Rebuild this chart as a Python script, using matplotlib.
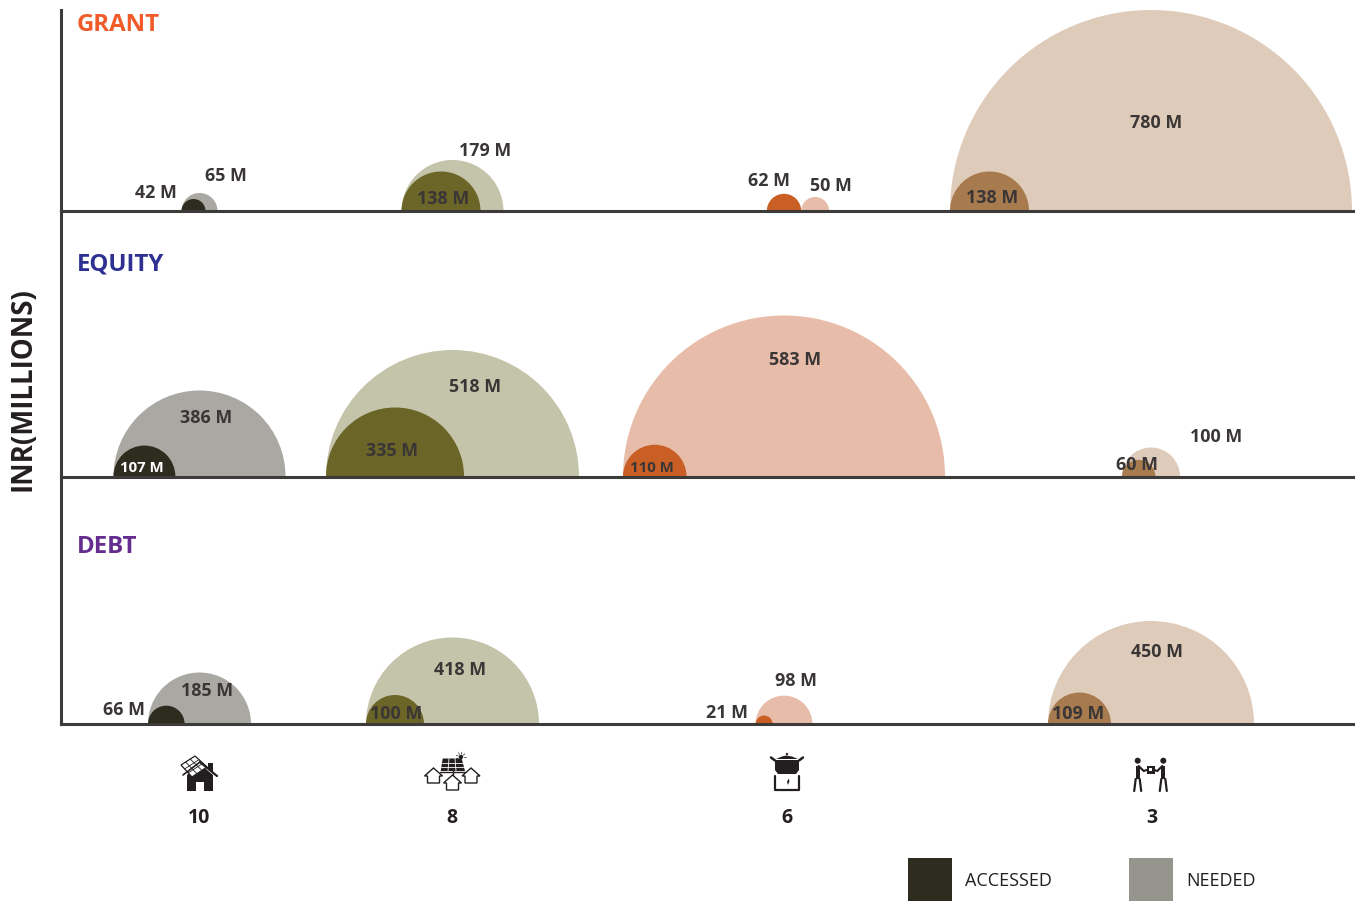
import numpy as np
import matplotlib
matplotlib.use('Agg')
import matplotlib.pyplot as plt
from matplotlib.patches import Wedge, Polygon, Circle, Rectangle

W, H = 1362, 901

beneficiaries = ['10', '8', '6', '3']
grant_needed = [65, 179, 50, 780]
grant_accessed = [42, 138, 62, 138]
equity_needed = [386, 518, 583, 100]
equity_accessed = [107, 335, 110, 60]
debt_needed = [185, 418, 98, 450]
debt_accessed = [66, 100, 21, 109]

# value -> semicircle radius, the sizing is not linear across the range
SCALE_VALUES = [21, 42, 50, 65, 100, 138, 179, 185, 335, 386, 418, 450, 518, 583, 780]
SCALE_RADII = [8.5, 12, 14, 18, 29, 39.5, 51, 51.5, 69, 86, 86.5, 103, 126.5, 161, 201]

AXIS_LEFT, AXIS_RIGHT = 61, 1352.5
COL_X = [199.5, 452.5, 784, 1151]
NEEDED_COLORS = ['#a9a8a2', '#c4c4aa', '#e7bca8', '#dfcbba']
ACCESSED_COLORS = ['#2e2b1f', '#6b6528', '#c95f25', '#a87b4f']
LINE_COLOR = '#3d3a3a'
TEXT_COLOR = '#3a3636'
ICON_COLOR = '#231f20'

# label centres as (x, y) on the canvas, needed then accessed per column
GRANT_NEEDED_POS = [(226, 176), (485, 151), (831, 186), (1156, 123)]
GRANT_ACCESSED_POS = [(155.5, 193), (443, 199), (769, 181), (992, 198)]
EQUITY_NEEDED_POS = [(206, 418), (475, 387), (795, 360), (1216, 437)]
EQUITY_ACCESSED_POS = [(142, 468), (392, 451), (652, 468), (1137, 465)]
DEBT_NEEDED_POS = [(207, 691), (460, 670), (796, 681), (1157, 652)]
DEBT_ACCESSED_POS = [(124, 710), (396, 714), (727, 713), (1078, 714)]

plt.rcParams['font.family'] = ['Open Sans', 'DejaVu Sans']

fig = plt.figure(figsize=(W / 100, H / 100), dpi=100)
overlay = fig.add_axes([0, 0, 1, 1], zorder=5)
overlay.set_xlim(0, W)
overlay.set_ylim(H, 0)
overlay.axis('off')


def radius(value):
    return float(np.interp(value, SCALE_VALUES, SCALE_RADII))


def draw_panel(top, bottom, needed, accessed):
    ax = fig.add_axes([AXIS_LEFT / W, 1 - bottom / H, (AXIS_RIGHT - AXIS_LEFT) / W, (bottom - top) / H])
    ax.set_xlim(AXIS_LEFT, AXIS_RIGHT)
    ax.set_ylim(0, bottom - top)
    ax.set_xticks([])
    ax.set_yticks([])
    ax.patch.set_visible(False)
    for side in ['top', 'right']:
        ax.spines[side].set_visible(False)
    for side in ['left', 'bottom']:
        ax.spines[side].set_linewidth(2.2)
        ax.spines[side].set_color(LINE_COLOR)
    for i in range(len(COL_X)):
        rn = radius(needed[i])
        ra = radius(accessed[i])
        if ra > rn:
            # bigger accessed amount sits on the column, needed next to it
            xa = COL_X[i]
            xn = xa + ra + rn
        else:
            xn = COL_X[i]
            xa = xn - rn + ra
        ax.add_patch(Wedge((xn, 0), rn, 0, 180, facecolor=NEEDED_COLORS[i], lw=0, zorder=2))
        ax.add_patch(Wedge((xa, 0), ra, 0, 180, facecolor=ACCESSED_COLORS[i], lw=0, zorder=2.5))
    return ax


draw_panel(10, 211, grant_needed, grant_accessed)
draw_panel(211, 476.5, equity_needed, equity_accessed)
draw_panel(476.5, 724, debt_needed, debt_accessed)


def value_labels(values, positions):
    for v, (x, y) in zip(values, positions):
        overlay.text(x, y, f'{v} M', ha='center', va='center', fontsize=12.9,
                     fontweight='bold', color=TEXT_COLOR)


value_labels(grant_needed, GRANT_NEEDED_POS)
value_labels(grant_accessed, GRANT_ACCESSED_POS)
value_labels(equity_needed, EQUITY_NEEDED_POS)
value_labels(debt_needed, DEBT_NEEDED_POS)
value_labels(debt_accessed, DEBT_ACCESSED_POS)
# the narrow equity labels are a size smaller
for v, (x, y), col, size in zip(equity_accessed, EQUITY_ACCESSED_POS,
                                ['white', TEXT_COLOR, TEXT_COLOR, TEXT_COLOR],
                                [10.8, 12.9, 10.8, 12.9]):
    overlay.text(x, y, f'{v} M', ha='center', va='center', fontsize=size,
                 fontweight='bold', color=col)

overlay.text(77, 25, 'GRANT', color='#f15a29', fontsize=17.3, fontweight='bold', va='center')
overlay.text(77, 265, 'EQUITY', color='#2e3192', fontsize=17.3, fontweight='bold', va='center')
overlay.text(77, 547, 'DEBT', color='#662d91', fontsize=17.3, fontweight='bold', va='center')
overlay.text(23, 389, 'INR(MILLIONS)', rotation=90, fontsize=19.9, fontweight='bold',
             ha='center', va='center', color=ICON_COLOR)

for x, label in zip([199, 452, 787, 1152], beneficiaries):
    overlay.text(x, 818, label, ha='center', va='center', fontsize=14,
                 fontweight='bold', color=ICON_COLOR)

# legend
overlay.add_patch(Rectangle((908, 858), 44, 43, facecolor='#2e2b1f', lw=0))
overlay.add_patch(Rectangle((1129, 858), 44, 43, facecolor='#95948d', lw=0))
overlay.text(965, 881, 'ACCESSED', fontsize=13, va='center', color=ICON_COLOR)
overlay.text(1186.5, 881, 'NEEDED', fontsize=13, va='center', color=ICON_COLOR)


# icons under the columns
def poly(points, fc=ICON_COLOR, ec='none', lw=0):
    overlay.add_patch(Polygon(points, closed=True, facecolor=fc, edgecolor=ec, linewidth=lw))


def line(xs, ys, lw=1.0, color=ICON_COLOR):
    overlay.plot(xs, ys, color=color, lw=lw, solid_capstyle='round')


def draw_house_icon():
    poly([(187, 775), (200, 764), (213, 775), (213, 791), (204, 791), (204, 782),
          (196, 782), (196, 791), (187, 791)])
    line([200, 217], [762, 776], lw=1.6)
    line([183, 200], [775, 762], lw=1.2)
    poly([(208, 763), (213, 763), (213, 773), (208, 769)])
    # roof panel
    poly([(181, 765), (195, 756), (207, 767), (192, 777)], fc='white', ec=ICON_COLOR, lw=0.9)
    for t in [0.33, 0.66]:
        line([181 + 14 * t, 192 + 15 * t], [765 - 9 * t, 777 - 10 * t], lw=0.6)
        line([181 + 11 * t, 195 + 12 * t], [765 + 12 * t, 756 + 11 * t], lw=0.6)


def small_house(cx, cy):
    poly([(cx - 6, cy + 7), (cx - 6, cy), (cx - 9, cy), (cx, cy - 8), (cx + 9, cy),
          (cx + 6, cy), (cx + 6, cy + 7)], fc='white', ec=ICON_COLOR, lw=1.0)


def draw_solar_icon():
    poly([(442.7, 758.5), (461.7, 758.5), (465, 771), (440.7, 771)])
    for t in [0.33, 0.66]:
        y = 758.5 + 12.5 * t
        line([442.7 - 2 * t, 461.7 + 3.3 * t], [y, y], lw=0.6, color='white')
    for a, b in [(449, 448), (455, 456)]:
        line([a, b], [758.5, 771], lw=0.6, color='white')
    overlay.add_patch(Circle((461, 757), 2.2, facecolor=ICON_COLOR, lw=0))
    for ang in np.radians([0, 40, 80, 120, 160, 200]):
        line([461 + 3 * np.cos(ang), 461 + 5 * np.cos(ang)],
             [757 - 3 * np.sin(ang), 757 - 5 * np.sin(ang)], lw=0.5)
    line([452.5, 452.5], [771, 775], lw=1.0)
    line([440, 465], [771.5, 771.5], lw=1.0)
    small_house(433.5, 776)
    small_house(471, 776)
    small_house(452.5, 783)


def draw_pot_icon():
    # body reaches down to just above the stove
    poly([(775, 760), (799, 760), (799, 770), (796, 774), (778, 774), (775, 770)])
    line([771, 775], [757.5, 760.5], lw=1.8)
    line([803, 799], [757.5, 760.5], lw=1.8)
    poly([(776, 759), (782, 756.5), (786, 755.5), (792, 756.5), (798, 759)])
    overlay.add_patch(Circle((787, 754), 1.2, facecolor=ICON_COLOR, lw=0))
    line([775, 775, 799, 799], [776, 790, 790, 776], lw=1.6)
    poly([(788.5, 778.5), (789.5, 781), (788, 785), (787, 782)])


def draw_people_icon():
    for x, flip in [(1137.7, 1), (1163.3, -1)]:
        overlay.add_patch(Circle((x, 760.7), 3, facecolor=ICON_COLOR, lw=0))
        poly([(x - 2, 765.5), (x + 2, 765.5), (x + 2, 779), (x - 2, 779)])
        line([x - 2, x - 3.5], [779, 791], lw=1.6)
        line([x + 2, x + 3.5], [779, 791], lw=1.6)
        line([x + flip * 1, x + flip * 6, x + flip * 9], [766, 771, 770], lw=1.5)
    poly([(1146.5, 766), (1154.5, 766), (1154.5, 773.5), (1146.5, 773.5)])
    poly([(1149.3, 767.5), (1151.7, 767.5), (1151.7, 771), (1149.3, 771)], fc='white')


draw_house_icon()
draw_solar_icon()
draw_pot_icon()
draw_people_icon()

plt.savefig('out.png', dpi=100)
